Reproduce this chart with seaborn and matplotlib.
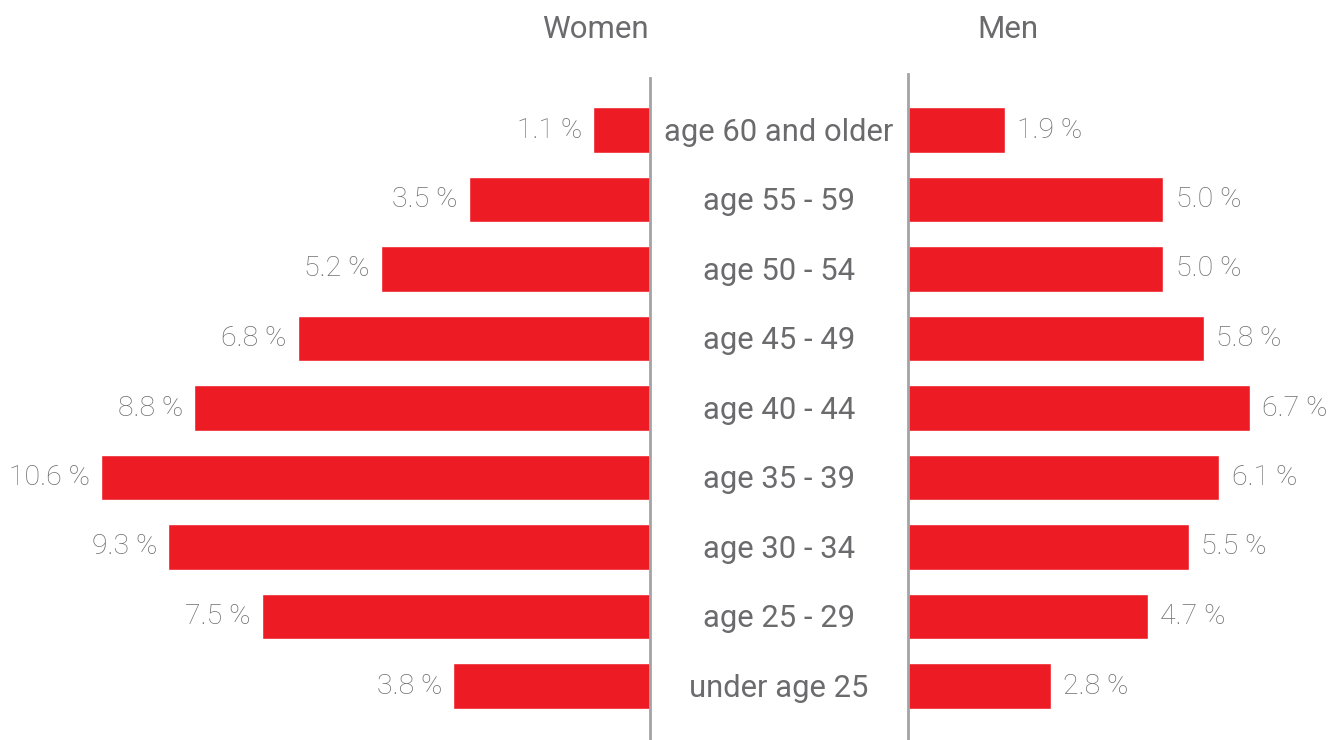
import matplotlib
matplotlib.use("Agg")
import matplotlib.pyplot as plt
import matplotlib.transforms as mtransforms
import seaborn as sns
import pandas as pd

categories = ["age 60 and older", "age 55 - 59", "age 50 - 54", "age 45 - 49",
              "age 40 - 44", "age 35 - 39", "age 30 - 34", "age 25 - 29", "under age 25"]
women = [1.1, 3.5, 5.2, 6.8, 8.8, 10.6, 9.3, 7.5, 3.8]
men = [1.9, 5.0, 5.0, 5.8, 6.7, 6.1, 5.5, 4.7, 2.8]
titles = ["Women", "Men"]

sns.set_theme(style="white")
plt.rcParams['font.family'] = ['Roboto', 'DejaVu Sans']

RED = "#ED1C24"
GRAY_TXT = "#6b6b6e"
VAL_TXT = "#6e6e6e"
SPINE = "#a3a3a6"

W, H = 1334, 740
fig = plt.figure(figsize=(W / 100, H / 100), dpi=100)

top_px, bot_px = 74, 740
left_end = 650
right_start = 908
px_per_pct = 51.8
px_per_pct_r = 51.0

axL = fig.add_axes([0, 1 - bot_px / H, left_end / W, (bot_px - top_px) / H])
axR = fig.add_axes([right_start / W, 1 - bot_px / H, (W - right_start) / W, (bot_px - top_px) / H])

dfw = pd.DataFrame({"cat": categories, "val": women})
dfm = pd.DataFrame({"cat": categories, "val": men})

sns.barplot(data=dfw, x="val", y="cat", orient="h", color=RED, saturation=1, width=0.66, ax=axL)
sns.barplot(data=dfm, x="val", y="cat", orient="h", color=RED, saturation=1, width=0.66, ax=axR)

step = 69.5
y_top = -(130 - top_px) / step
y_bot = 8 + (bot_px - 686) / step
for ax in (axL, axR):
    ax.set_ylim(y_bot, y_top)
    ax.set_xlabel("")
    ax.set_ylabel("")
    ax.set_xticks([])
    ax.set_yticks([])
    for s in ax.spines.values():
        s.set_visible(False)
    ax.patch.set_alpha(0)

axL.set_xlim(left_end / px_per_pct, 0)
axR.set_xlim(0, (W - right_start) / px_per_pct_r)

axL.spines["right"].set_visible(True)
axL.spines["right"].set_color(SPINE)
axL.spines["right"].set_linewidth(2)
axL.spines["right"].set_bounds(y_bot, y_top + 4 / step)
axR.spines["left"].set_visible(True)
axR.spines["left"].set_color(SPINE)
axR.spines["left"].set_linewidth(2)

for i, v in enumerate(women):
    axL.annotate(f"{v:.1f} %", xy=(v, i), xytext=(-8, 0), textcoords="offset points",
                 ha="right", va="center", fontsize=20.5, color=VAL_TXT, fontweight="light")
for i, v in enumerate(men):
    axR.annotate(f"{v:.1f} %", xy=(v, i), xytext=(9, 0), textcoords="offset points",
                 ha="left", va="center", fontsize=20.5, color=VAL_TXT, fontweight="light")

trans = mtransforms.blended_transform_factory(fig.transFigure, axL.transData)
cx = (left_end + right_start) / 2 / W
for i, c in enumerate(categories):
    fig.text(cx, i + 0.03, c, transform=trans, ha="center", va="center", fontsize=22.3, color=GRAY_TXT)

fig.text(595 / W, 1 - 30 / H, titles[0], ha="center", va="center", fontsize=22.5, color=GRAY_TXT)
fig.text(1008 / W, 1 - 30 / H, titles[1], ha="center", va="center", fontsize=22.5, color=GRAY_TXT)

fig.savefig("out.png", dpi=100, facecolor="white")
